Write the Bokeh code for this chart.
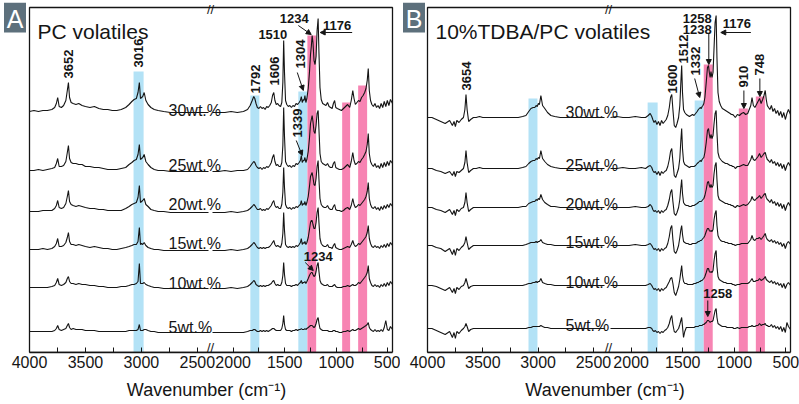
import math
from bokeh.plotting import figure
from bokeh.models import (Range1d, FixedTicker, CustomJSTickFormatter,
                          ColumnDataSource, Arrow, NormalHead)
from bokeh.transform import dodge
from bokeh.layouts import row
from bokeh.embed import file_html
from bokeh.resources import INLINE
from bokeh.core.properties import value

FONT = "Liberation Sans"

# ---------------- data ----------------
wn_left = [4000, 3960, 3920, 3880, 3840, 3800, 3775, 3760, 3748, 3735,
           3715, 3695, 3675, 3662, 3652, 3642, 3628, 3610, 3585, 3560,
           3530, 3500, 3460, 3420, 3380, 3340, 3300, 3260, 3220, 3180,
           3140, 3110, 3085, 3065, 3045, 3030, 3018, 3008, 2998, 2988,
           2975, 2960, 2940, 2915, 2885, 2850, 2800, 2740, 2680, 2620,
           2560, 2500, 2440, 2400]

wn_right = [2200, 2140, 2080, 2020, 1960, 1900, 1860,
            1835, 1815, 1800, 1790, 1778, 1765,
            1750, 1735, 1720, 1705, 1690, 1675,
            1660, 1645, 1630, 1618, 1606, 1595,
            1582, 1568, 1555, 1540, 1528, 1518,
            1510, 1502, 1492, 1480, 1465, 1450,
            1435, 1420, 1405, 1390, 1375, 1360,
            1348, 1339, 1330, 1320, 1312, 1304,
            1295, 1285, 1272, 1260, 1250, 1242,
            1234, 1226, 1216, 1206, 1196, 1186,
            1176, 1168, 1158, 1146, 1132, 1116,
            1100, 1085, 1070, 1055, 1040, 1028,
            1016, 1005, 990, 970, 950, 930,
            910, 890, 870, 855, 840, 828,
            815, 800, 785, 770, 755, 740,
            725, 712, 700, 690, 680, 668,
            655, 640, 625, 610, 595, 580,
            565, 550, 535, 520, 505, 490,
            475, 455]

concentrations = ["30wt.%", "25wt.%", "20wt.%", "15wt.%", "10wt.%", "5wt.%"]
pc_offsets = [240, 181, 140, 102, 64, 20]
tdba_offsets = [235, 184, 145, 107, 67, 24]

# PC volatiles (panel A)
pc30_left = [1, 2, 1, 2, 2, 3, 5, 9, 15, 6, 5, 7, 12, 22, 30, 15, 10, 9, 8, 9,
             7, 6, 5, 6, 4, 3, 3, 2, 2, 3, 5, 8, 11, 13, 14, 20, 30, 14, 15, 16,
             20, 12, 8, 5, 3, 2, 1, 0, 0, 0, 0, 0, 0, 0]
pc25_left = [1, 1, 2, 1, 2, 3, 4, 8, 13, 5, 5, 6, 10, 19, 26, 13, 9, 8, 8, 7,
             7, 5, 5, 4, 4, 3, 2, 2, 2, 3, 4, 7, 9, 11, 12, 17, 27, 12, 13, 14,
             17, 10, 7, 4, 2, 1, 1, 0, 0, 0, 0, 0, 0, 0]
pc20_left = [1, 1, 1, 2, 2, 2, 4, 7, 12, 5, 4, 5, 9, 16, 22, 11, 8, 7, 6, 7,
             6, 5, 4, 4, 3, 3, 2, 2, 2, 2, 4, 6, 8, 9, 10, 15, 27, 10, 11, 12,
             14, 8, 6, 3, 2, 1, 1, 0, 0, 0, 0, 0, 0, 0]
pc15_left = [1, 1, 1, 2, 1, 2, 4, 7, 12, 4, 4, 5, 8, 13, 18, 9, 6, 6, 5, 6,
             5, 4, 3, 4, 3, 2, 2, 1, 1, 2, 3, 4, 5, 6, 6, 9, 23, 6, 7, 6,
             8, 5, 3, 2, 1, 1, 0, 0, 0, 0, 0, 0, 0, 0]
pc10_left = [1, 1, 1, 1, 1, 2, 3, 6, 10, 4, 3, 4, 6, 10, 12, 7, 5, 5, 4, 5,
             4, 4, 3, 3, 2, 2, 1, 1, 1, 2, 2, 3, 4, 4, 5, 7, 25, 5, 5, 5,
             6, 4, 3, 2, 1, 1, 0, 0, 0, 0, 0, 0, 0, 0]
pc5_left = [1, 1, 1, 1, 1, 1, 2, 4, 7, 3, 2, 3, 4, 7, 9, 5, 3, 4, 3, 3,
            3, 2, 2, 2, 1, 1, 1, 1, 1, 1, 1, 2, 2, 2, 2, 3, 8, 2, 2, 2,
            3, 3, 2, 1, 1, 0, 0, 0, 0, 0, 0, 0, 0, 0]

pc30_right = [0, 0, 0, 1, 0, 1, 3,
              7, 12, 16, 14, 9, 5,
              4, 6, 4, 5, 3, 6,
              5, 7, 10, 17, 20, 12,
              8, 9, 7, 6, 10, 30,
              72, 40, 12, 8, 6, 7,
              5, 7, 6, 9, 8, 10,
              12, 16, 10, 13, 12, 17,
              10, 14, 24, 40, 58, 66,
              77, 70, 52, 48, 56, 82,
              94, 60, 25, 13, 9, 8,
              7, 10, 6, 5, 4, 9,
              12, 5, 4, 3, 2, 4,
              6, 8, 5, 12, 22, 14,
              8, 10, 12, 11, 15, 17,
              20, 24, 32, 44, 22, 12,
              8, 6, 9, 5, 7, 4,
              9, 5, 11, 6, 12, 7,
              13, 9]
pc25_right = [0, 0, 1, 0, 1, 1, 2,
              5, 8, 10, 9, 6, 4,
              3, 4, 2, 4, 3, 5,
              4, 6, 9, 14, 17, 10,
              6, 7, 5, 5, 9, 26,
              64, 35, 10, 7, 5, 6,
              4, 6, 5, 8, 7, 9,
              11, 16, 9, 11, 11, 14,
              9, 12, 20, 33, 48, 52,
              56, 50, 40, 38, 46, 58,
              61, 42, 18, 10, 8, 7,
              6, 8, 5, 4, 4, 8,
              10, 4, 3, 2, 2, 3,
              5, 7, 4, 10, 19, 11,
              7, 8, 10, 9, 12, 14,
              17, 20, 27, 38, 18, 10,
              7, 5, 8, 4, 6, 3,
              8, 4, 9, 5, 10, 6,
              11, 8]
pc20_right = [0, 0, 0, 1, 0, 1, 2,
              4, 6, 8, 7, 5, 3,
              3, 4, 2, 3, 2, 4,
              3, 5, 7, 10, 12, 7,
              5, 6, 4, 4, 8, 20,
              45, 25, 8, 5, 4, 5,
              3, 5, 4, 6, 5, 7,
              8, 12, 7, 9, 8, 11,
              7, 10, 16, 26, 36, 38,
              40, 35, 28, 27, 34, 46,
              52, 33, 14, 8, 6, 5,
              5, 7, 4, 3, 3, 6,
              8, 3, 2, 2, 1, 2,
              4, 5, 3, 7, 14, 8,
              5, 6, 8, 7, 9, 11,
              13, 16, 21, 30, 14, 8,
              5, 4, 6, 3, 5, 2,
              6, 3, 7, 4, 8, 5,
              9, 6]
pc15_right = [0, 0, 0, 1, 0, 1, 2,
              4, 6, 8, 7, 5, 3,
              2, 3, 2, 3, 2, 3,
              3, 4, 6, 8, 10, 6,
              4, 5, 4, 3, 7, 17,
              38, 20, 6, 4, 3, 4,
              3, 4, 3, 5, 4, 6,
              8, 12, 6, 8, 7, 9,
              6, 8, 13, 21, 28, 30,
              30, 26, 22, 22, 28, 38,
              43, 28, 12, 7, 5, 4,
              4, 6, 3, 3, 2, 5,
              7, 3, 2, 1, 1, 2,
              3, 4, 3, 6, 10, 6,
              4, 5, 7, 6, 8, 10,
              12, 14, 18, 25, 12, 7,
              4, 3, 5, 3, 4, 2,
              5, 3, 6, 3, 7, 4,
              8, 5]
pc10_right = [0, 0, 0, 1, 0, 1, 2,
              4, 6, 8, 7, 4, 3,
              2, 3, 2, 3, 2, 3,
              3, 4, 5, 7, 8, 5,
              3, 4, 3, 3, 6, 13,
              26, 14, 5, 3, 3, 3,
              2, 3, 3, 4, 3, 5,
              6, 8, 5, 6, 6, 7,
              5, 7, 10, 13, 15, 16,
              16, 14, 12, 13, 17, 23,
              26, 17, 8, 5, 4, 3,
              3, 4, 2, 2, 2, 3,
              4, 2, 1, 1, 1, 2,
              2, 3, 2, 3, 4, 3,
              3, 4, 6, 5, 7, 9,
              11, 13, 16, 23, 10, 6,
              3, 2, 4, 2, 3, 1,
              4, 2, 5, 2, 6, 3,
              7, 4]
pc5_right = [0, 0, 0, 0, 0, 0, 1,
             2, 2, 3, 3, 2, 1,
             1, 2, 1, 2, 1, 2,
             1, 2, 3, 4, 4, 3,
             2, 2, 2, 2, 4, 9,
             17, 8, 3, 2, 2, 2,
             1, 2, 2, 3, 2, 3,
             3, 4, 3, 3, 3, 4,
             3, 4, 5, 6, 7, 7,
             7, 6, 5, 6, 9, 13,
             15, 9, 4, 3, 2, 2,
             2, 2, 1, 1, 1, 2,
             2, 1, 1, 0, 0, 1,
             1, 2, 1, 2, 3, 2,
             2, 3, 4, 3, 4, 5,
             6, 7, 8, 10, 5, 3,
             2, 1, 3, 1, 2, 1,
             3, 1, 5, 12, 3, 2,
             6, 3]

# 10%TDBA/PC volatiles (panel B)
tdba30_left = [0, 0, -2, -4, -6, -3, -8, -4, -9, -3, -5, -2, 0, 8, 23, 8, -4, -2, 0, 0,
               1, 0, 0, 0, 0, 0, 0, 0, 0, 0, 1, 2, 6, 9, 10, 10, 12, 11, 14, 13,
               22, 12, 9, 5, 2, 1, 0, 0, 0, 0, 0, 0, 0, 0]
tdba25_left = [0, 0, -2, -3, -5, -3, -7, -3, -8, -3, -4, -2, 0, 6, 18, 6, -4, -2, 0, 0,
               1, 0, 0, 0, 0, 0, 0, 0, 0, 0, 1, 2, 5, 7, 8, 8, 10, 9, 11, 10,
               18, 10, 7, 4, 2, 1, 0, 0, 0, 0, 0, 0, 0, 0]
tdba20_left = [0, 0, -2, -3, -5, -2, -7, -3, -8, -2, -4, -1, 0, 5, 15, 5, -4, -2, 0, 0,
               0, 0, 0, 0, 0, 0, 0, 0, 0, 0, 1, 1, 4, 5, 6, 6, 8, 7, 9, 8,
               13, 8, 5, 3, 1, 1, 0, 0, 0, 0, 0, 0, 0, 0]
tdba15_left = [0, 0, -2, -3, -6, -3, -9, -4, -10, -3, -5, -2, 0, 3, 9, 3, -4, -2, 0, 0,
               0, 0, 0, 0, 0, 0, 0, 0, 0, 0, 0, 1, 2, 3, 3, 3, 4, 3, 4, 4,
               6, 3, 2, 1, 1, 0, 0, 0, 0, 0, 0, 0, 0, 0]
tdba10_left = [0, 0, -1, -3, -5, -2, -7, -3, -8, -2, -4, -1, 0, 3, 7, 3, -3, -1, 0, 0,
               0, 0, 0, 0, 0, 0, 0, 0, 0, 0, 0, 1, 2, 2, 3, 3, 4, 3, 4, 4,
               7, 3, 2, 1, 1, 0, 0, 0, 0, 0, 0, 0, 0, 0]
tdba5_left = [0, 0, -2, -4, -6, -3, -9, -4, -10, -3, -5, -2, 0, 2, 5, 2, -3, -1, 0, 0,
              0, 0, 0, 0, 0, 0, 0, 0, 0, 0, 0, 0, 1, 1, 2, 2, 2, 2, 2, 2,
              3, 2, 1, 1, 0, 0, 0, 0, 0, 0, 0, 0, 0, 0]

tdba30_right = [0, 1, 0, 0, 1, 0, 0,
                2, 4, 1, -2, -5, -3,
                -7, -4, -8, -3, -6, -4,
                -2, 2, 10, 20, 23, 8,
                -8, -10, -6, 0, 12, 35,
                52, 25, 8, 5, 3, 2,
                1, 2, 3, 2, 4, 6,
                8, 9, 10, 9, 11, 12,
                14, 20, 35, 50, 52, 45,
                40, 46, 40, 45, 70, 95,
                102, 60, 25, 16, 12, 9,
                8, 7, 6, 5, 4, 3,
                3, 2, 0, 3, 2, 4,
                5, 3, 4, 8, 12, 20,
                12, 10, 13, 16, 19, 14,
                18, 22, 27, 18, 12, 10,
                8, 12, 6, 9, 4, 7,
                2, 6, 0, 5, -2, 4,
                8, 3]
tdba25_right = [0, 0, 1, 0, 0, 1, 0,
                2, 3, 1, -2, -4, -3,
                -6, -3, -7, -3, -5, -3,
                -2, 2, 9, 17, 20, 7,
                -7, -9, -5, 0, 10, 28,
                40, 20, 7, 4, 3, 2,
                1, 2, 2, 2, 3, 5,
                6, 7, 8, 7, 9, 10,
                11, 16, 26, 38, 40, 34,
                30, 34, 30, 33, 45, 55,
                58, 36, 16, 11, 9, 7,
                6, 5, 5, 4, 3, 3,
                2, 2, 0, 2, 2, 3,
                4, 3, 3, 6, 9, 13,
                9, 8, 10, 12, 15, 11,
                13, 15, 16, 12, 9, 8,
                6, 9, 5, 7, 3, 6,
                2, 5, 0, 4, -2, 3,
                6, 2]
tdba20_right = [0, 0, 0, 0, 1, 0, 0,
                1, 3, 1, -2, -4, -3,
                -5, -3, -6, -3, -5, -3,
                -2, 2, 8, 15, 18, 6,
                -6, -8, -5, 0, 8, 20,
                28, 14, 5, 3, 2, 2,
                1, 1, 2, 2, 3, 4,
                5, 6, 6, 6, 7, 8,
                9, 12, 18, 25, 26, 22,
                20, 23, 20, 22, 34, 42,
                45, 28, 12, 8, 7, 6,
                5, 4, 4, 3, 3, 2,
                2, 1, 0, 2, 1, 2,
                3, 2, 3, 5, 7, 11,
                8, 7, 9, 10, 12, 9,
                11, 13, 14, 10, 8, 7,
                5, 8, 4, 6, 2, 5,
                1, 4, -1, 3, -3, 2,
                5, 1]
tdba15_right = [0, 0, 0, 0, 1, 0, 0,
                1, 2, 0, -2, -4, -3,
                -5, -3, -6, -3, -5, -3,
                -2, 2, 9, 17, 20, 6,
                -6, -8, -5, 0, 8, 16,
                20, 11, 4, 3, 2, 2,
                1, 1, 2, 2, 2, 3,
                4, 4, 5, 5, 6, 7,
                8, 10, 14, 17, 17, 15,
                14, 15, 14, 16, 26, 32,
                35, 20, 10, 7, 5, 4,
                4, 3, 3, 2, 2, 2,
                1, 1, 0, 1, 1, 2,
                2, 2, 2, 4, 6, 10,
                6, 5, 7, 7, 8, 6,
                8, 10, 12, 8, 6, 5,
                4, 6, 3, 5, 2, 4,
                1, 3, -1, 2, -3, 2,
                4, 1]
tdba10_right = [0, 0, 0, 0, 0, 0, 0,
                1, 2, 0, -2, -4, -3,
                -5, -3, -6, -3, -5, -3,
                -2, 1, 4, 7, 8, 2,
                -7, -10, -6, -1, 6, 14,
                20, 10, 4, 2, 2, 1,
                1, 1, 1, 2, 2, 3,
                3, 4, 4, 5, 5, 6,
                7, 9, 13, 17, 17, 14,
                13, 14, 13, 15, 25, 32,
                35, 19, 9, 6, 5, 4,
                3, 3, 2, 2, 2, 2,
                1, 1, 0, 1, 1, 2,
                2, 2, 2, 3, 5, 7,
                4, 4, 5, 5, 7, 5,
                6, 7, 9, 6, 5, 4,
                3, 5, 2, 4, 1, 3,
                0, 2, -2, 2, -3, 1,
                3, 0]
tdba5_right = [0, 0, 0, 0, 0, 0, 0,
               1, 1, 0, -2, -3, -2,
               -4, -3, -5, -3, -4, -2,
               -1, 1, 5, 10, 13, 4,
               -3, -4, -2, 0, 4, 8,
               11, 2, -9, -3, 1, 1,
               1, 1, 1, 1, 2, 2,
               2, 3, 3, 3, 3, 4,
               4, 5, 6, 8, 8, 7,
               6, 7, 7, 8, 13, 18,
               20, 11, 5, 4, 3, 2,
               2, 2, 1, 1, 1, 1,
               1, 0, 0, 1, 0, 1,
               1, 1, 1, 2, 2, 3,
               2, 2, 3, 3, 5, 3,
               4, 4, 5, 3, 3, 2,
               2, 4, 1, 3, 0, 2,
               -1, 2, -3, 1, -4, 6,
               2, -1]

# highlighted bands (wavenumber from/to, height, kind)
pc_band_from = [3070, 1833, 1368, 1280, 943, 788]
pc_band_to = [2980, 1746, 1281, 1195, 866, 701]
pc_band_top = [281, 257, 261, 317, 250, 267]
band_kind = ["blue", "blue", "blue", "pink", "pink", "pink"]
tdba_band_from = [3087, 1840, 1384, 1296, 956, 791]
tdba_band_to = [3006, 1743, 1296, 1209, 869, 703]
tdba_band_top = [254, 250, 252, 288, 244, 256]

left_tick_values = [4000, 3750, 3500, 3250, 3000, 2750, 2500]
right_tick_values = [2000, 1750, 1500, 1250, 1000, 750, 500]

BLUE = "#b3e2f6"
PINK = "#f784b3"
BADGE = "#5d707c"
INK = "#151515"
NBSP = "\u00a0"


def make_panel(badge, title, lefts, rights, offsets, conc_x, conc_y,
               bfrom, bto, btop, vlabels, hlabels, arrows,
               seg_l, width, d, e):
    # geometry in reference pixels relative to the plot box (363 px wide)
    FR = 363.0
    kL = 1600.0 / seg_l
    kR = (2200 - 455) / (FR - 183)
    L_start = 4000 + d * kL
    L_end = 4000 - (FR + e) * kL
    R_start = 2200 + (183 + d) * kR
    R_end = 2200 - (180 + e) * kR
    box_end = 4000 - FR * kL
    mbl = 3 if badge == "A" else 2
    mbr = width - mbl - int(d + FR + e)

    p = figure(width=width, height=404, x_range=Range1d(L_start, L_end),
               y_range=Range1d(0, 350), output_backend="svg",
               toolbar_location=None, min_border_left=mbl,
               min_border_right=mbr, min_border_top=2, min_border_bottom=52,
               background_fill_color="white", border_fill_color="white",
               outline_line_color=None)
    p.extra_x_ranges = {"R": Range1d(R_start, R_end)}
    p.grid.visible = False
    p.yaxis.visible = False

    pos = list(left_tick_values) + [4000 - (183 + (2200 - w) / kR) * kL
                                    for w in right_tick_values]
    lab = [str(t) if t % 500 == 0 else "" for t in left_tick_values + right_tick_values]
    ax = p.xaxis[0]
    ax.bounds = (box_end, 4000)
    ax.ticker = FixedTicker(ticks=pos, minor_ticks=[])
    ax.formatter = CustomJSTickFormatter(args=dict(pos=pos, lab=lab), code="""
        let out = "";
        for (let i = 0; i < pos.length; i++) {
            if (Math.abs(pos[i] - tick) < 0.5) { out = lab[i]; }
        }
        return out;
    """)
    ax.major_tick_in = 5
    ax.major_tick_out = 0
    ax.minor_tick_in = 0
    ax.minor_tick_out = 0
    ax.axis_line_color = INK
    ax.axis_line_width = 1.3
    ax.major_tick_line_color = INK
    ax.major_label_text_font = FONT
    ax.major_label_text_font_size = "16px"
    ax.major_label_text_color = INK
    ax.major_label_standoff = 3
    # the frame also holds the badge on its left, so pad the label to centre it on the box
    ax.axis_label = NBSP * 3 + "Wavenumber (cm⁻¹)"
    ax.axis_label_text_font = FONT
    ax.axis_label_text_font_size = "18px"
    ax.axis_label_text_font_style = "normal"
    ax.axis_label_text_color = INK
    ax.axis_label_standoff = 9

    # bands
    for seg in ("L", "R"):
        idx = [i for i, f in enumerate(bfrom) if (f > 2300) == (seg == "L")]
        src = ColumnDataSource(dict(
            l=[bfrom[i] for i in idx], r=[bto[i] for i in idx],
            t=[btop[i] for i in idx],
            c=[BLUE if band_kind[i] == "blue" else PINK for i in idx]))
        kw = {} if seg == "L" else {"x_range_name": "R"}
        p.quad(left="l", right="r", bottom=0, top="t", fill_color="c",
               line_color=None, source=src, **kw)

    # spectra
    for i in range(6):
        sl = ColumnDataSource(dict(wn=wn_left, h=lefts[i]))
        sr = ColumnDataSource(dict(wn=wn_right, h=rights[i]))
        p.line(x="wn", y=dodge("h", offsets[i]), source=sl,
               line_color=INK, line_width=1.1)
        p.line(x="wn", y=dodge("h", offsets[i]), source=sr,
               line_color=INK, line_width=1.1, x_range_name="R")

    # plot box
    p.quad(left=[4000], right=[box_end], bottom=[0], top=[345],
           fill_color=None, line_color=INK, line_width=1.3)

    # concentration labels
    p.text(x=[conc_x] * 6, y=conc_y, text=concentrations,
           text_font=value(FONT), text_font_size="16px", text_color=INK,
           text_align="left", text_baseline="alphabetic")

    # panel title
    p.text(x=[4000 - 8 * kL], y=[321], text=[title], text_font=value(FONT),
           text_font_size="21px", text_color=INK, text_align="left",
           text_baseline="alphabetic")

    # peak labels
    for seg in ("L", "R"):
        kw = {} if seg == "L" else {"x_range_name": "R"}
        v = [a for a in vlabels if a[0] == seg]
        if v:
            p.text(x=[a[1] for a in v], y=[a[2] for a in v], text=[a[3] for a in v],
                   angle=math.pi / 2, text_font=value(FONT), text_font_size="13px",
                   text_font_style="bold", text_color=INK,
                   text_align="left", text_baseline="middle", **kw)
        h = [a for a in hlabels if a[0] == seg]
        if h:
            p.text(x=[a[1] for a in h], y=[a[2] for a in h], text=[a[3] for a in h],
                   text_font=value(FONT), text_font_size="13px",
                   text_font_style="bold", text_color=INK,
                   text_align="center", text_baseline="middle", **kw)
    for a in arrows:
        p.add_layout(Arrow(end=NormalHead(size=5, fill_color=INK,
                                          line_color=INK, line_width=1),
                           x_start=a[1], y_start=a[2], x_end=a[3], y_end=a[4],
                           line_width=1, line_color=INK,
                           x_range_name="default" if a[0] == "L" else "R"))

    # axis break marks (top and bottom of the box)
    xb = 4000 - 181 * kL
    p.text(x=[xb, xb], y=[343, 5], text=["//", "//"], text_font=value(FONT),
           text_font_size="13px", text_color=INK, text_align="center",
           text_baseline="middle")

    # panel badge
    p.quad(left=[4000 + (d - 0.5) * kL], right=[4000 + (d - 22.5) * kL],
           bottom=[320], top=[350], fill_color=BADGE, line_color=None)
    p.text(x=[4000 + (d - 11.5) * kL], y=[334], text=[badge],
           text_font=value(FONT), text_font_size="25px", text_color="white",
           text_align="center", text_baseline="middle")
    return p


pA = make_panel(
    "A", "PC volatiles",
    [pc30_left, pc25_left, pc20_left, pc15_left, pc10_left, pc5_left],
    [pc30_right, pc25_right, pc20_right, pc15_right, pc10_right, pc5_right],
    pc_offsets, 2757, [242, 187, 148, 109, 69, 25],
    pc_band_from, pc_band_to, pc_band_top,
    [("L", 3652, 274, "3652"), ("L", 3024, 285, "3016"),
     ("R", 1784, 259, "1792"), ("R", 1595, 267, "1606"),
     ("R", 1349, 284, "1304"), ("R", 1378, 215, "1339")],
    [("R", 1615, 318, "1510"), ("R", 1407, 334, "1234"),
     ("R", 991, 327, "1176"), ("R", 1175, 96, "1234")],
    [("R", 1378, 280, 1320, 262), ("R", 1368, 327, 1243, 318),
     ("R", 846, 320, 1156, 320), ("R", 1388, 212, 1330, 197),
     ("R", 1301, 90, 1223, 82)],
    179, 400, 26, 2)

pB = make_panel(
    "B", "10%TDBA/PC volatiles",
    [tdba30_left, tdba25_left, tdba20_left, tdba15_left, tdba10_left, tdba5_left],
    [tdba30_right, tdba25_right, tdba20_right, tdba15_right, tdba10_right, tdba5_right],
    tdba_offsets, 2752, [240, 187, 148, 110, 70, 27],
    tdba_band_from, tdba_band_to, tdba_band_top,
    [("L", 3645, 262, "3654"), ("R", 1597, 259, "1600"),
     ("R", 1490, 289, "1512"), ("R", 1374, 277, "1332"),
     ("R", 907, 265, "910"), ("R", 752, 277, "748")],
    [("R", 1359, 334, "1258"), ("R", 1359, 323, "1238"),
     ("R", 975, 329, "1176"), ("R", 1160, 59, "1258")],
    [("R", 1384, 274, 1335, 255), ("R", 1247, 319, 1247, 288),
     ("R", 839, 320, 1131, 320), ("R", 907, 262, 907, 244),
     ("R", 752, 274, 752, 256), ("R", 1257, 52, 1257, 36)],
    177, 399, 25, 2)

layout = row(pA, pB)
open("out.html", "w").write(file_html(layout, INLINE))
